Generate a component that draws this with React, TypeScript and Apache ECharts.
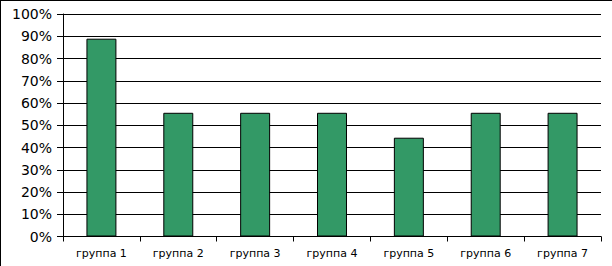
import React, { useEffect, useRef } from "react";
import * as echarts from "echarts";

const categories = ["группа 1", "группа 2", "группа 3", "группа 4", "группа 5", "группа 6", "группа 7"];
const values = [88.9, 55.6, 55.6, 55.6, 44.4, 55.6, 55.6];

export default function App() {
  const ref = useRef<HTMLDivElement>(null);
  useEffect(() => {
    document.body.style.margin = "0";
    const chart = echarts.init(ref.current!, null, { renderer: "svg" });
    chart.setOption({
      animation: false,
      backgroundColor: "#ffffff",
      grid: { left: 63, right: 11, top: 14, bottom: 29.5 },
      graphic: [
        { type: "line", shape: { x1: 0, y1: 0.5, x2: 612, y2: 0.5 }, style: { stroke: "#000", lineWidth: 1 } },
        { type: "line", shape: { x1: 0.5, y1: 0, x2: 0.5, y2: 266 }, style: { stroke: "#000", lineWidth: 1 } },
      ],
      xAxis: {
        type: "category",
        data: categories,
        axisLine: { lineStyle: { color: "#000", width: 1 } },
        axisTick: { show: true, length: 5, lineStyle: { color: "#000" } },
        axisLabel: {
          color: "#000",
          fontFamily: "DejaVu Sans",
          fontSize: 11,
          margin: 11,
        },
      },
      yAxis: {
        type: "value",
        min: 0,
        max: 100,
        interval: 10,
        axisLine: { show: true, lineStyle: { color: "#000", width: 1 } },
        axisTick: { show: true, length: 6, lineStyle: { color: "#000" } },
        splitLine: { show: true, lineStyle: { color: "#000", width: 1 } },
        axisLabel: {
          color: "#000",
          fontFamily: "DejaVu Sans",
          fontSize: 14,
          margin: 11,
          formatter: (v: number) => `${v}%`,
        },
      },
      series: [
        {
          type: "bar",
          data: values,
          barWidth: "39%",
          itemStyle: { color: "#339966", borderColor: "#000", borderWidth: 1 },
        },
      ],
    });
    return () => chart.dispose();
  }, []);
  return <div ref={ref} style={{ width: 612, height: 266, position: "absolute", left: 0, top: 0 }} />;
}
